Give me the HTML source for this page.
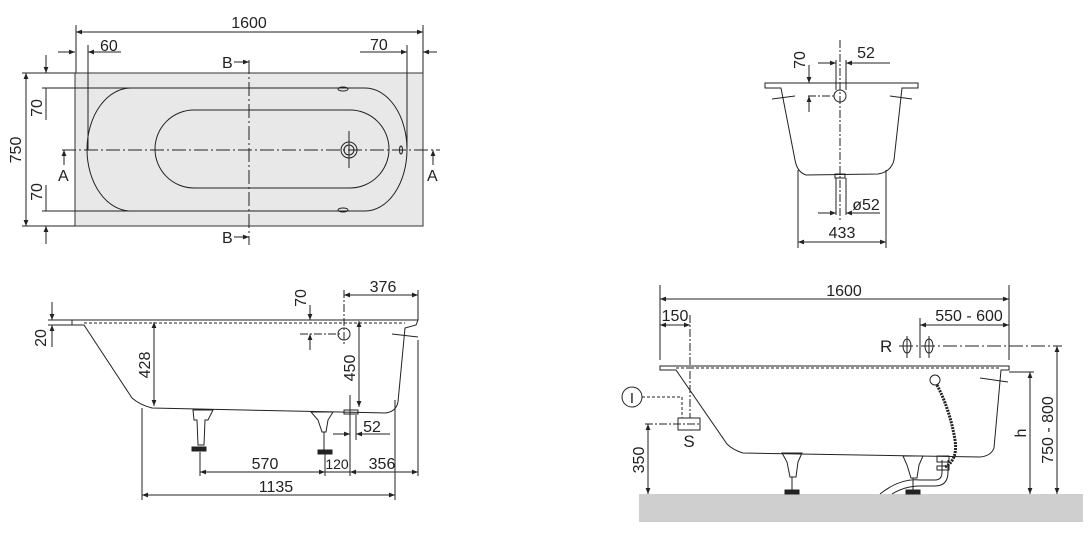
<!DOCTYPE html>
<html><head><meta charset="utf-8"><style>
html,body{margin:0;padding:0;background:#fff}
svg{display:block}
text{font-family:"Liberation Sans",sans-serif;font-size:16px;fill:#222}
</style></head><body>
<svg width="1089" height="534" viewBox="0 0 1089 534" xmlns="http://www.w3.org/2000/svg">
<defs>
<marker id="a" viewBox="0 0 10 10" refX="10" refY="5" markerWidth="8" markerHeight="6" orient="auto-start-reverse"><path d="M0,1 L10,5 L0,9z" fill="#222"/></marker>
</defs>
<g stroke="#222" stroke-width="1" fill="none">
<rect x="75" y="73" width="348" height="153" fill="#e8e8e8" stroke="#333"/>
<path d="M131,88 H365 A42,61.5 0 0 1 365,211 H131 A44,61.5 0 0 1 131,88 Z"/>
<path d="M194,110 H350 A39,39 0 0 1 350,188 H194 A39,39 0 0 1 194,110 Z"/>
<ellipse cx="343" cy="89" rx="5" ry="2"/><ellipse cx="343" cy="210" rx="5" ry="2"/>
<ellipse cx="401" cy="150" rx="1.5" ry="4"/>
<circle cx="349" cy="150" r="8"/><circle cx="349" cy="150" r="5"/>
<line x1="349" y1="131" x2="349" y2="168"/>
<line x1="62" y1="150" x2="440" y2="150" stroke-dasharray="14,3,2,3"/>
<line x1="249" y1="60" x2="249" y2="245" stroke-dasharray="14,3,2,3"/>
<line x1="76" y1="25" x2="76" y2="73"/><line x1="423" y1="25" x2="423" y2="73"/>
<line x1="76" y1="32" x2="423" y2="32" marker-start="url(#a)" marker-end="url(#a)"/>
<line x1="88" y1="45" x2="88" y2="150"/><line x1="407" y1="45" x2="407" y2="150"/>
<line x1="58" y1="52" x2="75" y2="52" marker-end="url(#a)"/><line x1="121" y1="52" x2="88" y2="52" marker-end="url(#a)"/>
<line x1="360" y1="52" x2="407" y2="52" marker-end="url(#a)"/><line x1="437" y1="52" x2="423" y2="52" marker-end="url(#a)"/>
<line x1="22" y1="73" x2="75" y2="73"/><line x1="22" y1="226" x2="75" y2="226"/>
<line x1="42" y1="88" x2="131" y2="88"/><line x1="42" y1="211" x2="131" y2="211"/>
<line x1="26" y1="73" x2="26" y2="226" marker-start="url(#a)" marker-end="url(#a)"/>
<line x1="46" y1="55" x2="46" y2="73" marker-end="url(#a)"/><line x1="46" y1="88" x2="46" y2="120"/>
<line x1="46" y1="185" x2="46" y2="211"/><line x1="46" y1="244" x2="46" y2="226" marker-end="url(#a)"/>
<line x1="64" y1="165" x2="64" y2="150" marker-end="url(#a)"/><line x1="433" y1="165" x2="433" y2="150" marker-end="url(#a)"/>
<line x1="234" y1="62" x2="249" y2="62" marker-end="url(#a)"/><line x1="234" y1="237" x2="249" y2="237" marker-end="url(#a)"/>

<path d="M72,320 H418 L416,325 L405,328 L398,402 Q396,412 385,413 L152,408 Q140,405 132,398 L84,325 L72,325 Z" fill="#fff"/>
<line x1="84" y1="323" x2="405" y2="323" stroke-dasharray="3,2"/>
<line x1="392" y1="334" x2="418" y2="337"/>
<path d="M193,410 H213 L208,420 L205,420 L204,445 L198,445 L197,420 L194,420 Z"/>
<rect x="192" y="447" width="14" height="4" fill="#222"/>
<path d="M311,412 H333 L328,420 L326,432 L322,432 L318,420 Z"/>
<line x1="324" y1="432" x2="324" y2="450"/>
<rect x="318" y="450" width="14" height="4" fill="#222"/>
<rect x="344" y="410" width="14" height="4"/>
<circle cx="344" cy="334" r="6"/>
<line x1="344" y1="290" x2="344" y2="345" stroke-dasharray="8,2,2,2"/>
<line x1="300" y1="334" x2="340" y2="334" stroke-dasharray="8,2,2,2"/>
<line x1="350" y1="395" x2="350" y2="440"/><line x1="356" y1="415" x2="356" y2="440"/>
<line x1="344" y1="295" x2="418" y2="295" marker-start="url(#a)" marker-end="url(#a)"/>
<line x1="418" y1="290" x2="418" y2="320"/>
<line x1="310" y1="305" x2="310" y2="320" marker-end="url(#a)"/><line x1="310" y1="350" x2="310" y2="334" marker-end="url(#a)"/>
<line x1="52" y1="302" x2="52" y2="320" marker-end="url(#a)"/><line x1="52" y1="347" x2="52" y2="325" marker-end="url(#a)"/>
<line x1="48" y1="320" x2="72" y2="320"/><line x1="48" y1="325" x2="72" y2="325"/>
<line x1="154" y1="322" x2="154" y2="406" marker-start="url(#a)" marker-end="url(#a)"/>
<line x1="359" y1="321" x2="359" y2="407" marker-start="url(#a)" marker-end="url(#a)"/>
<line x1="200" y1="452" x2="200" y2="476"/><line x1="325" y1="452" x2="325" y2="476"/>
<line x1="142" y1="408" x2="142" y2="500"/><line x1="395" y1="400" x2="395" y2="500"/>
<line x1="418" y1="340" x2="418" y2="476"/><line x1="350" y1="440" x2="350" y2="476"/>
<line x1="200" y1="472" x2="325" y2="472" marker-start="url(#a)" marker-end="url(#a)"/>
<line x1="325" y1="472" x2="350" y2="472"/>
<line x1="350" y1="472" x2="418" y2="472" marker-start="url(#a)" marker-end="url(#a)"/>
<line x1="142" y1="495" x2="395" y2="495" marker-start="url(#a)" marker-end="url(#a)"/>
<line x1="333" y1="434" x2="350" y2="434" marker-end="url(#a)"/><line x1="390" y1="434" x2="356" y2="434" marker-end="url(#a)"/>

<path d="M765,83 H918 V88 H902 L894,160 Q891,172 878,174 L806,175 Q797,172 795,160 L781,88 H765 Z" fill="#fff"/>
<line x1="772" y1="99" x2="795" y2="96"/><line x1="890" y1="96" x2="912" y2="99"/>
<rect x="835" y="174" width="10" height="4"/>
<line x1="840" y1="40" x2="840" y2="220" stroke-dasharray="8,2,2,2"/>
<line x1="836" y1="60" x2="836" y2="90"/><line x1="846" y1="60" x2="846" y2="90"/>
<line x1="836" y1="178" x2="836" y2="215"/><line x1="846" y1="178" x2="846" y2="215"/>
<circle cx="840" cy="96" r="6"/>
<line x1="808" y1="96" x2="834" y2="96" stroke-dasharray="8,2,2,2"/>
<line x1="818" y1="63" x2="836" y2="63" marker-end="url(#a)"/><line x1="890" y1="63" x2="846" y2="63" marker-end="url(#a)"/>
<line x1="818" y1="213" x2="836" y2="213" marker-end="url(#a)"/><line x1="880" y1="213" x2="846" y2="213" marker-end="url(#a)"/>
<line x1="809" y1="65" x2="809" y2="83" marker-end="url(#a)"/><line x1="809" y1="112" x2="809" y2="96" marker-end="url(#a)"/>
<line x1="798" y1="170" x2="798" y2="248"/><line x1="886" y1="170" x2="886" y2="248"/>
<line x1="798" y1="242" x2="886" y2="242" marker-start="url(#a)" marker-end="url(#a)"/>

<rect x="639" y="494" width="444" height="28" fill="#cfcfcf" stroke="none"/>
<path d="M660,366 H1009 V370 H1001 L994,448 Q991,456 980,457 L743,453 Q733,450 727,444 L676,370 H660 Z" fill="#fff"/>
<line x1="676" y1="368" x2="1001" y2="368" stroke-dasharray="3,2"/>
<line x1="980" y1="378" x2="1008" y2="382"/>
<circle cx="935" cy="380" r="5"/>
<path d="M937,385 Q950,410 955,440 Q958,460 945,467" stroke-width="3" stroke-dasharray="2,1"/>
<path d="M782,453 H802 L798,462 L796,477 L790,477 L787,462 Z"/>
<line x1="792" y1="477" x2="792" y2="490"/><rect x="785" y="490" width="14" height="4" fill="#222"/>
<path d="M903,456 H923 L919,465 L917,478 L911,478 L907,465 Z"/>
<line x1="913" y1="478" x2="913" y2="490"/><rect x="906" y="490" width="14" height="4" fill="#222"/>
<path d="M880,494 Q900,478 920,480 H935 Q942,480 942,472 V460"/>
<path d="M892,494 Q905,486 920,486 H935 Q948,486 948,472 V460"/>
<rect x="937" y="456" width="12" height="6"/><rect x="937" y="466" width="12" height="4"/>
<line x1="660" y1="285" x2="660" y2="360"/><line x1="1009" y1="285" x2="1009" y2="360"/>
<line x1="660" y1="299" x2="1009" y2="299" marker-start="url(#a)" marker-end="url(#a)"/>
<line x1="660" y1="325" x2="690" y2="325" marker-start="url(#a)" marker-end="url(#a)"/>
<line x1="690" y1="315" x2="690" y2="430" stroke-dasharray="8,2,2,2"/>
<line x1="920" y1="325" x2="1009" y2="325" marker-start="url(#a)" marker-end="url(#a)"/>
<line x1="920" y1="318" x2="920" y2="358"/>
<ellipse cx="907" cy="346" rx="4" ry="7"/><ellipse cx="929" cy="346" rx="4" ry="7"/>
<line x1="899" y1="346" x2="1062" y2="346" stroke-dasharray="14,3,2,3"/>
<line x1="907" y1="336" x2="907" y2="358"/><line x1="929" y1="336" x2="929" y2="358"/>
<line x1="1009" y1="372" x2="1034" y2="372"/>
<line x1="1030" y1="372" x2="1030" y2="494" marker-start="url(#a)" marker-end="url(#a)"/>
<line x1="1057" y1="346" x2="1057" y2="494" marker-start="url(#a)" marker-end="url(#a)"/>
<rect x="678" y="418" width="22" height="12" fill="#fff"/>
<line x1="645" y1="424" x2="700" y2="424" stroke-dasharray="8,2,2,2"/>
<path d="M642,397 H682 V418" stroke-dasharray="3,2"/>
<circle cx="632" cy="397" r="10"/>
<line x1="648" y1="424" x2="648" y2="494" marker-start="url(#a)" marker-end="url(#a)"/>
</g>
<g>
<text x="249" y="28" text-anchor="middle">1600</text>
<text x="100" y="51">60</text>
<text x="370" y="50">70</text>
<text x="222" y="68">B</text><text x="222" y="243">B</text>
<text x="58" y="181">A</text><text x="427" y="181">A</text>
<text transform="translate(21,150) rotate(-90)" text-anchor="middle">750</text>
<text transform="translate(42,108) rotate(-90)" text-anchor="middle">70</text>
<text transform="translate(42,192) rotate(-90)" text-anchor="middle">70</text>
<text x="383" y="292" text-anchor="middle">376</text>
<text transform="translate(306,298) rotate(-90)" text-anchor="middle">70</text>
<text transform="translate(46,338) rotate(-90)" text-anchor="middle">20</text>
<text transform="translate(150,365) rotate(-90)" text-anchor="middle">428</text>
<text transform="translate(355,368) rotate(-90)" text-anchor="middle">450</text>
<text x="372" y="432" text-anchor="middle">52</text>
<text x="265" y="469" text-anchor="middle">570</text>
<text x="337" y="469" text-anchor="middle" style="font-size:14px">120</text>
<text x="382" y="469" text-anchor="middle">356</text>
<text x="276" y="492" text-anchor="middle">1135</text>
<text x="866" y="58" text-anchor="middle">52</text>
<text transform="translate(805,60) rotate(-90)" text-anchor="middle">70</text>
<text x="866" y="210" text-anchor="middle">ø52</text>
<text x="842" y="238" text-anchor="middle">433</text>
<text x="844" y="296" text-anchor="middle">1600</text>
<text x="675" y="321" text-anchor="middle">150</text>
<text x="969" y="321" text-anchor="middle">550 - 600</text>
<text x="880" y="352" style="font-size:17px">R</text>
<text x="689" y="447" text-anchor="middle" style="font-size:17px">S</text>
<text x="632" y="403" text-anchor="middle" style="font-size:15px">I</text>
<text transform="translate(644,460) rotate(-90)" text-anchor="middle">350</text>
<text transform="translate(1026,433) rotate(-90)" text-anchor="middle">h</text>
<text transform="translate(1053,430) rotate(-90)" text-anchor="middle">750 - 800</text>
</g>
</svg>
</body></html>
